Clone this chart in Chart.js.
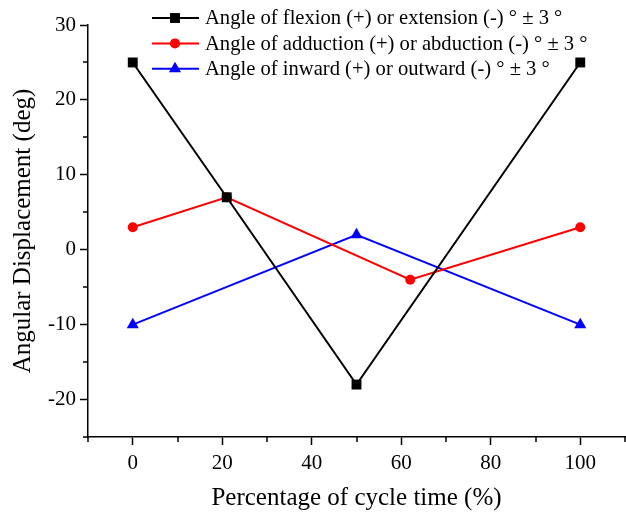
<!DOCTYPE html>
<html>
<head>
<meta charset="utf-8">
<script src="https://cdn.jsdelivr.net/npm/chart.js@4"></script>
<style>
  html, body { margin: 0; padding: 0; background: #fff; }
  #wrap { width: 626px; height: 517px; }
</style>
</head>
<body>
<div id="wrap"><canvas id="chart" width="626" height="517"></canvas></div>
<script>
// données
const flexionX = [0, 21, 50, 100];
const flexionY = [25, 7, -18, 25];
const adductionX = [0, 21, 62, 100];
const adductionY = [3, 7, -4, 3];
const inwardX = [0, 50, 100];
const inwardY = [-10, 2, -10];

const seriesLabels = [
    'Angle of flexion (+) or extension (-) \u00b0 \u00b1 3 \u00b0',
    'Angle of adduction (+) or abduction (-) \u00b0 \u00b1 3 \u00b0',
    'Angle of inward (+) or outward (-) \u00b0 \u00b1 3 \u00b0'
];
const xTicks = [0, 20, 40, 60, 80, 100];
const xMinorTicks = [-10, 10, 30, 50, 70, 90, 110];
const yTicks = [-20, -10, 0, 10, 20, 30];
const yMinorTicks = [-25, -15, -5, 5, 15, 25];

const FONT = "'Liberation Serif', 'Times New Roman', serif";

function toPoints(xs, ys) {
    return xs.map((x, i) => ({ x: x, y: ys[i] }));
}

// petits traits des graduations secondaires
const minorTicks = {
    id: 'minorTicks',
    afterDraw(chart) {
        const ctx = chart.ctx;
        const xs = chart.scales.x, ys = chart.scales.y;
        ctx.save();
        ctx.strokeStyle = '#000';
        ctx.lineWidth = 1.5;
        ctx.beginPath();
        xMinorTicks.forEach(v => {
            const px = Math.round(xs.getPixelForValue(v));
            ctx.moveTo(px, xs.top);
            ctx.lineTo(px, xs.top + 5);
        });
        yMinorTicks.forEach(v => {
            const py = Math.round(ys.getPixelForValue(v));
            ctx.moveTo(ys.right, py);
            ctx.lineTo(ys.right - 5, py);
        });
        ctx.stroke();
        ctx.restore();
    }
};

// légende avec trait + marqueur
const lineLegend = {
    id: 'lineLegend',
    afterDraw(chart) {
        const ctx = chart.ctx;
        ctx.save();
        chart.data.datasets.forEach((ds, i) => {
            const y = 18 + i * 25.4;
            ctx.strokeStyle = ds.borderColor;
            ctx.lineWidth = 2;
            ctx.beginPath();
            ctx.moveTo(152, y);
            ctx.lineTo(199, y);
            ctx.stroke();
            ctx.fillStyle = ds.backgroundColor;
            Chart.helpers.drawPoint(ctx, {
                pointStyle: ds.pointStyle,
                radius: ds.pointRadius,
                rotation: 0,
                borderWidth: 0
            }, 175, y);
            ctx.fillStyle = '#000';
            ctx.font = '20.6px ' + FONT;
            ctx.textBaseline = 'middle';
            ctx.fillText(ds.label, 205, y + 1);
        });
        ctx.restore();
    }
};

const ctx = document.getElementById('chart').getContext('2d');
new Chart(ctx, {
    type: 'line',
    data: {
        datasets: [
            {
                label: seriesLabels[0],
                data: toPoints(flexionX, flexionY),
                borderColor: '#000000',
                backgroundColor: '#000000',
                pointStyle: 'rect',
                pointRadius: 7
            },
            {
                label: seriesLabels[1],
                data: toPoints(adductionX, adductionY),
                borderColor: '#ff0000',
                backgroundColor: '#ff0000',
                pointStyle: 'circle',
                pointRadius: 5
            },
            {
                label: seriesLabels[2],
                data: toPoints(inwardX, inwardY),
                borderColor: '#0000ff',
                backgroundColor: '#0000ff',
                pointStyle: 'triangle',
                pointRadius: 7
            }
        ]
    },
    options: {
        responsive: false,
        animation: false,
        layout: { autoPadding: false, padding: { top: 25, right: 1, left: 0, bottom: 0 } },
        elements: {
            line: { borderWidth: 2, tension: 0 },
            point: { borderWidth: 0, hoverRadius: 7 }
        },
        plugins: {
            legend: { display: false },
            tooltip: { enabled: false }
        },
        scales: {
            x: {
                type: 'linear',
                min: -10,
                max: 110,
                afterFit: s => { s.height = 80; s.paddingLeft = 0; s.paddingRight = 0; },
                afterBuildTicks: s => { s.ticks = xTicks.map(v => ({ value: v })); },
                border: { color: '#000', width: 1.5 },
                grid: { drawOnChartArea: false, color: '#000', tickLength: 8, tickWidth: 1.5 },
                ticks: { color: '#000', font: { family: FONT, size: 21 }, padding: 6, maxRotation: 0 },
                title: {
                    display: true,
                    text: 'Percentage of cycle time (%)',
                    color: '#000',
                    font: { family: FONT, size: 25 },
                    padding: { bottom: 4 }
                }
            },
            y: {
                min: -25,
                max: 30,
                afterFit: s => { s.width = 88; s.paddingTop = 0; s.paddingBottom = 0; },
                afterBuildTicks: s => { s.ticks = yTicks.map(v => ({ value: v })); },
                border: { color: '#000', width: 1.5 },
                grid: { drawOnChartArea: false, color: '#000', tickLength: 8, tickWidth: 1.5 },
                ticks: { color: '#000', font: { family: FONT, size: 21 }, padding: 4 },
                title: {
                    display: true,
                    text: 'Angular Displacement (deg)',
                    color: '#000',
                    font: { family: FONT, size: 25 },
                    padding: { top: 8 }
                }
            }
        }
    },
    plugins: [minorTicks, lineLegend]
});
</script>
</body>
</html>
